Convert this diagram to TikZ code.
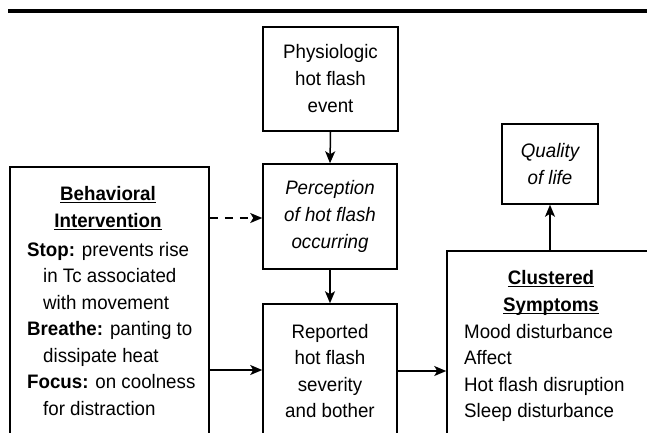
\documentclass[tikz,border=0pt]{standalone}
\usepackage{fontspec}
\setmainfont{Liberation Sans}[FakeStretch=0.96]
\usetikzlibrary{arrows.meta}
\newcommand\myul[1]{\setbox0\hbox{#1}\rlap{\rule[-2.6pt]{\wd0}{1.3pt}}\box0}
\newcommand\topstrut{\rule{0pt}{15pt}}
\begin{document}
\begin{tikzpicture}[x=1pt,y=-1pt,
  box/.style={draw, line width=1.5pt, inner sep=0pt},
  txt/.style={inner sep=0pt},
  f26/.style={font=\fontsize{19.5}{26.5}\selectfont},
  f27/.style={font=\fontsize{19.5}{27}\selectfont},
  arr/.style={line width=1.5pt, -{Stealth[length=12pt,width=10pt,inset=3pt]}},
  dasharr/.style={arr, dash pattern=on 8pt off 7pt}]
\useasboundingbox (0,0) rectangle (647,432);
\clip (0,0) rectangle (647,432);
% top rule
\draw[line width=3.3pt] (8,11) -- (647,11);
% boxes
\node[box, f27, align=center, minimum width=135pt, minimum height=104pt] (phys) at (330.5,79) {Physiologic\\hot flash\\event};
\node[box, f27, align=center, minimum width=134pt, minimum height=105pt] (perc) at (330,216.5) {\itshape Perception\\\itshape of hot flash\\\itshape occurring};
\node[box, minimum width=134pt, minimum height=136pt] (rep) at (330,372) {};
\node[box, minimum width=199pt, minimum height=273pt] (beh) at (109.5,303.5) {};
\node[box, f26, align=center, minimum width=96pt, minimum height=80pt] (qual) at (550,164) {\itshape Quality\\\itshape of life};
\node[box, minimum width=213pt, minimum height=189pt] (clus) at (553.5,345.5) {};
% texts in cut boxes
\node[txt, f26, align=center, anchor=north] (reptxt) at (330,323) {\topstrut Reported\\hot flash\\severity\\and bother};
\node[txt, f27, align=center, anchor=north] (behhead) at (108,185) {\topstrut\bfseries\myul{Behavioral}\\\bfseries\myul{Intervention}};
\node[txt, f26, align=left, anchor=north west] (behbody) at (27,241) {\topstrut\textbf{Stop:} prevents rise\\\hspace*{16pt}in Tc associated\\\hspace*{16pt}with movement\\\textbf{Breathe:} panting to\\\hspace*{16pt}dissipate heat\\\textbf{Focus:} on coolness\\\hspace*{16pt}for distraction};
\node[txt, f27, align=center, anchor=north] (clushead) at (551,269) {\topstrut\bfseries\myul{Clustered}\\\bfseries\myul{Symptoms}};
\node[txt, f26, align=left, anchor=north west] (clusbody) at (464,323) {\topstrut Mood disturbance\\Affect\\Hot flash disruption\\Sleep disturbance};
% connectors
\draw[arr] (phys.south) -- (perc.north);
\draw[arr] (perc.south) -- (rep.north);
\draw[dasharr] (beh.east |- 0,218) -- (perc.west |- 0,218);
\draw[arr] (beh.east |- 0,370) -- (rep.west |- 0,370);
\draw[arr] (rep.east |- 0,371) -- (clus.west |- 0,371);
\draw[arr] (clus.north -| qual.south) -- (qual.south);
\end{tikzpicture}
\end{document}
